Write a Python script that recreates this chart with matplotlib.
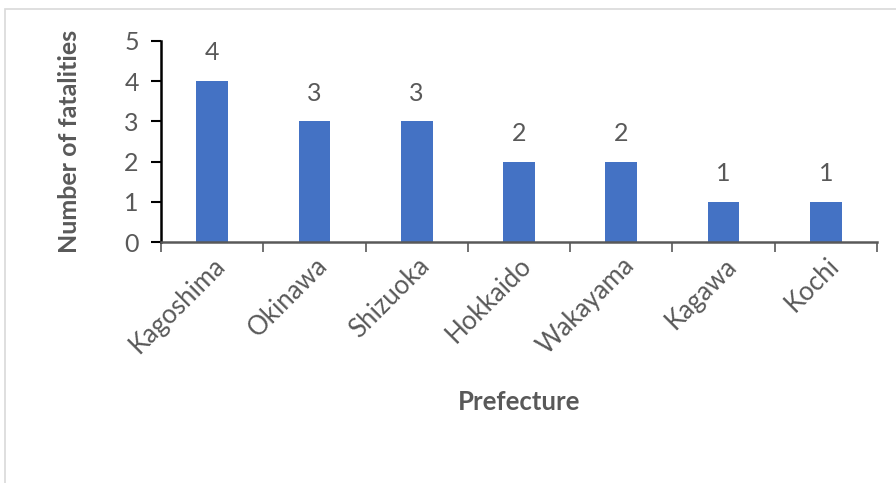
import matplotlib.pyplot as plt
from matplotlib.patches import Rectangle

prefectures = ['Kagoshima', 'Okinawa', 'Shizuoka', 'Hokkaido', 'Wakayama', 'Kagawa', 'Kochi']
fatalities = [4, 3, 3, 2, 2, 1, 1]

plt.rcParams['font.family'] = ['Lato', 'DejaVu Sans']
grey = '#595959'

fig = plt.figure(figsize=(8.96, 4.83), dpi=100)
ax = fig.add_axes([161/896, 1-242/483, 716/896, 201/483])

x = range(len(prefectures))
bars = ax.bar(x, fatalities, width=0.31, color='#4472C4')
for b, v in zip(bars, fatalities):
    ax.text(b.get_x() + b.get_width()/2, v + 0.42, str(v), ha='center', va='bottom',
            fontsize=18, color=grey)

ax.set_xlim(-0.5, len(prefectures) - 0.5)
ax.set_ylim(0, 5)
ax.set_yticks(range(6))
ax.set_xticks(list(x))
ax.set_xticklabels(prefectures, rotation=45, ha='right', rotation_mode='anchor')
ax.set_xticks([i - 0.5 for i in range(len(prefectures) + 1)], minor=True)
ax.tick_params(axis='x', which='major', length=0, labelsize=18.5, labelcolor=grey, pad=8)
ax.tick_params(axis='x', which='minor', length=7, width=1.2, color=grey, direction='out')
ax.tick_params(axis='y', length=7, width=1.5, color='black', labelsize=18,
               labelcolor=grey, pad=9)

for s in ['top', 'right']:
    ax.spines[s].set_visible(False)
ax.spines['left'].set_color('black')
ax.spines['left'].set_linewidth(1.8)
ax.spines['bottom'].set_color(grey)
ax.spines['bottom'].set_linewidth(1.8)

ax.set_ylabel('Number of fatalities', fontsize=18, fontweight='bold', color=grey, labelpad=31)
ax.set_xlabel('Prefecture', fontsize=18.5, fontweight='bold', color=grey, labelpad=22)

fig.patches.append(Rectangle((5/896, -0.1), 1.2, 1 - 9/483 + 0.1, transform=fig.transFigure,
                             fill=False, edgecolor='#D9D9D9', linewidth=1.2))

fig.savefig('out.png', dpi=100)
